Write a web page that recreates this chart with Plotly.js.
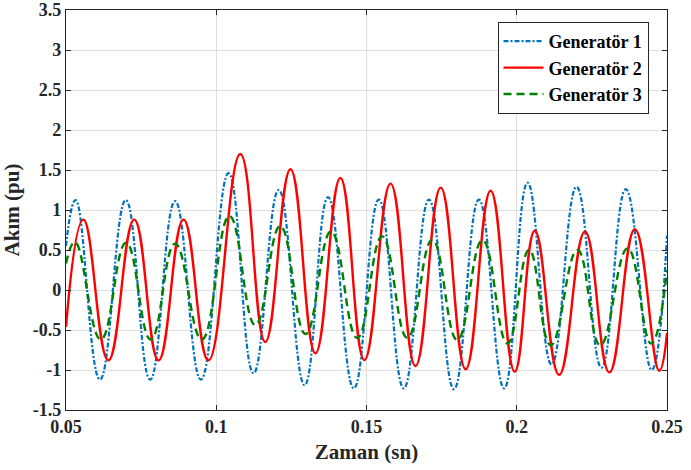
<!DOCTYPE html>
<html>
<head>
<meta charset="utf-8">
<script src="https://cdn.plot.ly/plotly-3.0.1.min.js"></script>
<style>html,body{margin:0;padding:0;background:#fff;}#chart{width:691px;height:470px;}</style>
</head>
<body>
<div id="chart"></div>
<script>
// Generator 1 (blue, dash-dot): start, peaks/troughs, end
const gen1Time = [0.0500, 0.0532, 0.0613, 0.0699, 0.0780, 0.0863, 0.0949, 0.1041, 0.1124, 0.1208, 0.1294, 0.1372, 0.1458, 0.1541, 0.1624, 0.1708, 0.1791, 0.1874, 0.1958, 0.2036, 0.2116, 0.2199, 0.2282, 0.2363, 0.2449, 0.2500];
const gen1Value = [0.55, 1.125, -1.12, 1.125, -1.12, 1.11, -1.12, 1.46, -1.04, 1.25, -1.19, 1.16, -1.23, 1.13, -1.23, 1.13, -1.24, 1.13, -1.23, 1.34, -0.93, 1.29, -0.97, 1.26, -1.00, 0.68];
// Generator 2 (red, solid)
const gen2Time = [0.0500, 0.0558, 0.0641, 0.0727, 0.0808, 0.0891, 0.0974, 0.1080, 0.1163, 0.1247, 0.1330, 0.1413, 0.1493, 0.1580, 0.1663, 0.1747, 0.1830, 0.1913, 0.1993, 0.2060, 0.2141, 0.2227, 0.2308, 0.2393, 0.2474, 0.2500];
const gen2Value = [-0.46, 0.88, -0.88, 0.88, -0.88, 0.88, -0.88, 1.70, -0.65, 1.51, -0.79, 1.40, -0.875, 1.33, -0.95, 1.28, -0.99, 1.24, -1.02, 0.74, -1.06, 0.73, -1.03, 0.76, -1.01, -0.54];
// Generator 3 (green, dashed)
const gen3Time = [0.0500, 0.0530, 0.0616, 0.0700, 0.0782, 0.0863, 0.0952, 0.1044, 0.1130, 0.1213, 0.1297, 0.1382, 0.1469, 0.1552, 0.1636, 0.1719, 0.1802, 0.1886, 0.1969, 0.2041, 0.2113, 0.2202, 0.2278, 0.2369, 0.2447, 0.2500];
const gen3Value = [0.33, 0.60, -0.62, 0.59, -0.62, 0.58, -0.62, 0.925, -0.44, 0.80, -0.55, 0.73, -0.60, 0.67, -0.60, 0.63, -0.625, 0.625, -0.67, 0.50, -0.69, 0.50, -0.69, 0.52, -0.67, 0.25];

const seriesNames = ["Generatör 1", "Generatör 2", "Generatör 3"];
const xTickVals = [0.05, 0.1, 0.15, 0.2, 0.25];
const xTickText = ["0.05", "0.1", "0.15", "0.2", "0.25"];
const yTickVals = [-1.5, -1, -0.5, 0, 0.5, 1, 1.5, 2, 2.5, 3, 3.5];
const yTickText = ["-1.5", "-1", "-0.5", "0", "0.5", "1", "1.5", "2", "2.5", "3", "3.5"];

const FONT = "Liberation Serif";
const bold = s => "<b>" + s + "</b>";

const traces = [
  {x: gen1Time, y: gen1Value, name: bold(seriesNames[0]), mode: "lines",
   line: {color: "#0072BD", width: 2.2, dash: "5px,2px,2px,2px", shape: "spline", smoothing: 1.3}},
  {x: gen2Time, y: gen2Value, name: bold(seriesNames[1]), mode: "lines",
   line: {color: "#FF0000", width: 2.4, dash: "solid", shape: "spline", smoothing: 1.3}},
  {x: gen3Time, y: gen3Value, name: bold(seriesNames[2]), mode: "lines",
   line: {color: "#008000", width: 2.4, dash: "8px,5px", shape: "spline", smoothing: 1.3}}
];

const axisCommon = {
  showline: true, linecolor: "#262626", linewidth: 1.2, mirror: "ticks",
  ticks: "inside", ticklen: 5, tickcolor: "#262626",
  showgrid: true, gridcolor: "#dedede", gridwidth: 1, zeroline: false,
  ticklabeloverflow: "allow",
  tickfont: {family: FONT, size: 18, color: "#262626"}
};

const layout = {
  width: 691, height: 470,
  font: {family: FONT},
  margin: {l: 66, r: 24, t: 10, b: 60},
  paper_bgcolor: "#ffffff", plot_bgcolor: "#ffffff",
  showlegend: true,
  xaxis: Object.assign({}, axisCommon, {
    range: [0.05, 0.25], tickvals: xTickVals, ticktext: xTickText.map(bold),
    title: {text: bold("Zaman (sn)"), font: {family: FONT, size: 21, color: "#262626"}, standoff: 8}
  }),
  yaxis: Object.assign({}, axisCommon, {
    range: [-1.5, 3.5], tickvals: yTickVals, ticktext: yTickText.map(bold),
    title: {text: bold("Akım (pu)"), font: {family: FONT, size: 21, color: "#262626"}, standoff: 8}
  }),
  legend: {
    x: 0.718, y: 0.97, xanchor: "left", yanchor: "top",
    bgcolor: "#ffffff", bordercolor: "#262626", borderwidth: 1,
    font: {family: FONT, size: 18, color: "#000000"},
    itemwidth: 40, tracegroupgap: 0
  }
};

Plotly.newPlot("chart", traces, layout, {displayModeBar: false, staticPlot: true});
</script>
</body>
</html>
